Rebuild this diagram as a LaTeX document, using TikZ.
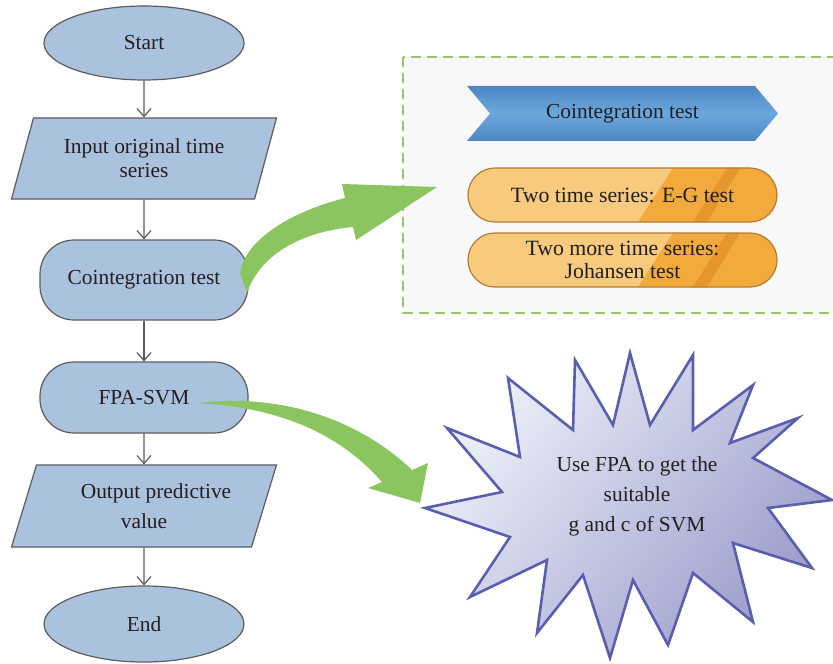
\documentclass[tikz,border=0pt]{standalone}
\usepackage{fontspec}
\setmainfont{Liberation Serif}
\usetikzlibrary{shapes.geometric,shapes.symbols,arrows.meta}

\definecolor{txt}{HTML}{231F20}
\definecolor{flowFill}{HTML}{ABC2DE}
\definecolor{flowDraw}{HTML}{5C5C5C}
\definecolor{chevEdge}{HTML}{4E86C4}
\definecolor{chevMid}{HTML}{6BA8DC}
\definecolor{pillLight}{HTML}{F7CA7D}
\definecolor{pillDark}{HTML}{F3AA3C}
\definecolor{pillStripe}{HTML}{E5962C}
\definecolor{pillDraw}{HTML}{B47C36}
\definecolor{boxFill}{HTML}{F8F8F8}
\definecolor{boxDraw}{HTML}{9BC56A}
\definecolor{arrowGreen}{HTML}{8BC55F}
\definecolor{starLight}{HTML}{EEF1F9}
\definecolor{starDark}{HTML}{9A9CCB}
\definecolor{starDraw}{HTML}{5A5EAE}

\begin{document}
\begin{tikzpicture}[x=0.5pt,y=-0.5pt,
    font=\fontsize{10.7}{12}\selectfont, text=txt,
    flowbox/.style={draw=flowDraw,fill=flowFill,line width=.6pt,align=center},
    term/.style={flowbox,ellipse,minimum width=100pt,minimum height=37pt},
    io/.style={flowbox,trapezium,trapezium left angle=63,trapezium right angle=117,
      trapezium stretches body,minimum width=132.5pt,minimum height=40.5pt,inner sep=1pt},
    proc/.style={flowbox,rounded corners=17pt,minimum width=104pt},
    flow/.style={draw=flowDraw,line width=.6pt,-{Straight Barb[length=4pt,width=7pt]}},
    pill/.style={draw=pillDraw,line width=.6pt,fill=pillLight,rounded corners=13.5pt,
      minimum width=154.5pt,minimum height=27pt,align=center,inner sep=1pt,
      font=\fontsize{10.9}{11.5}\selectfont,
      path picture={
        \fill[pillDark,sharp corners] ([xshift=102.5pt]path picture bounding box.north west)
          -- (path picture bounding box.north east) -- (path picture bounding box.south east)
          -- ([xshift=85pt]path picture bounding box.south west) -- cycle;
        \fill[pillStripe,sharp corners] ([xshift=129.5pt]path picture bounding box.north west)
          -- ([xshift=136pt]path picture bounding box.north west)
          -- ([xshift=119.5pt]path picture bounding box.south west)
          -- ([xshift=112.5pt]path picture bounding box.south west) -- cycle;
      }},
    bigarrow/.style={fill=arrowGreen}]

  \useasboundingbox (0,0) rectangle (833,663);

  %% Flow chart on the left
  \node[term] (start) at (144,43) {Start};
  \node[io] (input) at (144,158.5) {Input original time\\series};
  \node[proc,minimum height=40pt] (coint) at (144,280) {Cointegration test};
  \node[proc,minimum height=35.5pt] (fpa) at (144,397.5) {FPA-SVM};
  \node[io,minimum height=41pt,font=\fontsize{10.7}{15}\selectfont] (output) at (144,506) {\hspace*{12pt}Output predictive\\value};
  \node[term,minimum height=38pt] (stop) at (144,624) {End};

  \foreach \a/\b in {start/input,input/coint,coint/fpa,fpa/output,output/stop}{
    \draw[flow] (\a) -- (\b);
  }

  %% Dashed panel with the two tests
  \draw[draw=boxDraw,fill=boxFill,dash pattern=on 5pt off 3pt,line width=.6pt]
    (403,57) rectangle (900,313);
  \node[signal,signal from=west,signal to=east,signal pointer angle=100,
    minimum width=155.5pt,minimum height=27.5pt,
    top color=chevEdge,bottom color=chevEdge,middle color=chevMid] (head) at (622.5,113.5) {Cointegration test};
  \node[pill] (eg) at (622.5,195) {Two time series: E-G test};
  \node[pill] (joh) at (622.5,260) {Two more time series:\\Johansen test};

  %% Green arrows
  \fill[bigarrow] (240,273) .. controls (245,240) and (290,212) .. (345,198)
    -- (342,184) -- (437,187) -- (356,240) -- (353,227)
    .. controls (300,232) and (260,255) .. (247,293) -- cycle;
  \fill[bigarrow] (197,403) .. controls (290,392) and (365,425) .. (412,470)
    -- (428,463) -- (420,503) -- (368,488) -- (382,482)
    .. controls (345,440) and (290,408) .. (197,403) -- cycle;

  %% Star
  \path[draw=starDraw,line width=1.3pt,line join=miter,
    top color=starLight,bottom color=starDark,shading angle=50]
    (425,508) \foreach \px/\py in {502/492,447/428,520/457,508/378,573/430,575/360,
      613/425,630/353,650/425,693/355,693/430,753/385,730/443,798/418,753/458,
      832/500,768/508,812/568,733/543,753/622,693/573,668/645,633/580,610/658,
      583/575,537/633,547/560,470/597,510/537}{ -- (\px,\py) } -- cycle;
  \node[align=center,font=\fontsize{10.7}{15}\selectfont] (fpatext) at (637,496)
    {Use FPA to get the\\suitable\\g and c of SVM};

\end{tikzpicture}
\end{document}
